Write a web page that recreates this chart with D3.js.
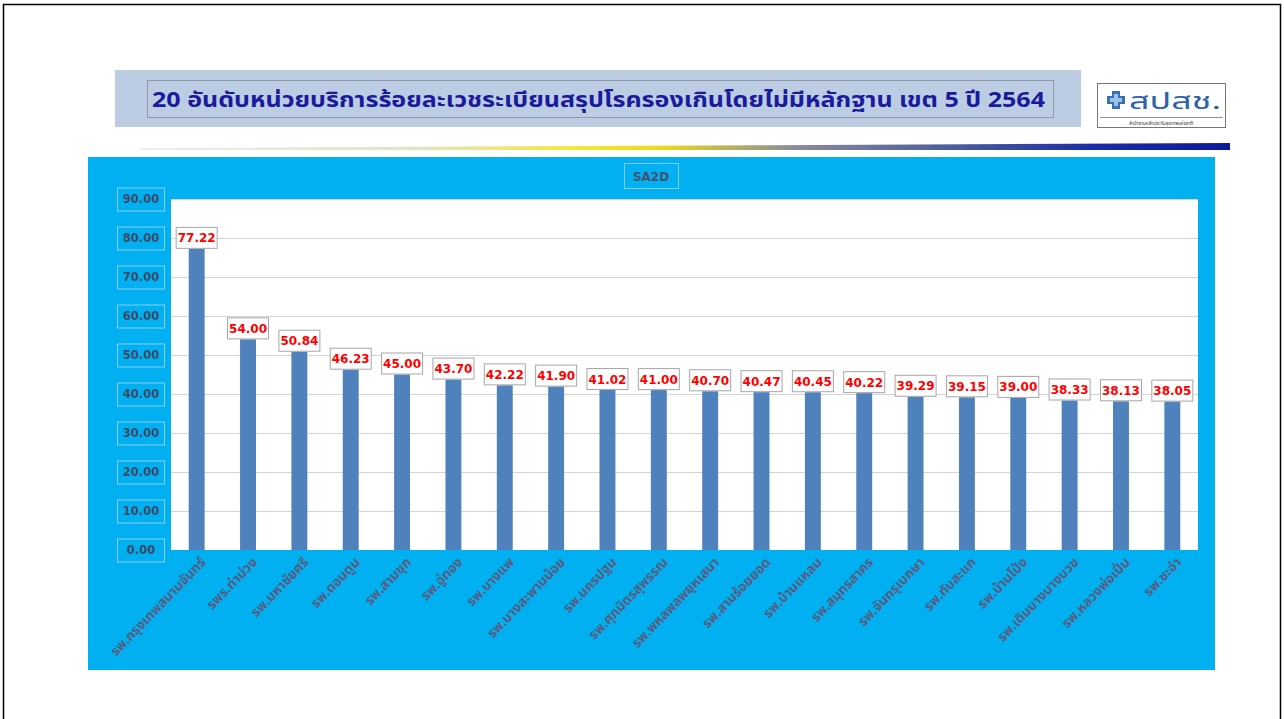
<!DOCTYPE html>
<html>
<head>
<meta charset="utf-8">
<script src="https://cdn.jsdelivr.net/npm/d3@7"></script>
<style>
  html, body { margin: 0; padding: 0; background: #ffffff; }
  svg { display: block; }
</style>
</head>
<body>
<svg id="chart" width="1284" height="719"></svg>
<script>
// Hospitals ranked by SA2D percentage, health region 5, fiscal year 2564
const hospitals = [
  "รพ.กรุงเทพสนามจันทร์", "รพร.ท่าม่วง", "รพ.มหาชัยศรี", "รพ.ดอนตูม", "รพ.สามชุก",
  "รพ.อู่ทอง", "รพ.บางแพ", "รพ.บางสะพานน้อย", "รพ.นครปฐม", "รพ.ศุภมิตรสุพรรณ",
  "รพ.พหลพลพยุหเสนา", "รพ.สามร้อยยอด", "รพ.บ้านแหลม", "รพ.สมุทรสาคร", "รพ.จันทรุเบกษา",
  "รพ.ทับสะแก", "รพ.บ้านโป่ง", "รพ.เดิมบางนางบวช", "รพ.หลวงพ่อเปิ่น", "รพ.ชะอำ"
];
const sa2dValues = [
  77.22, 54.00, 50.84, 46.23, 45.00, 43.70, 42.22, 41.90, 41.02, 41.00,
  40.70, 40.47, 40.45, 40.22, 39.29, 39.15, 39.00, 38.33, 38.13, 38.05
];
const yTicks = [0, 10, 20, 30, 40, 50, 60, 70, 80, 90];
const titleText = "20 อันดับหน่วยบริการร้อยละเวชระเบียนสรุปโรครองเกินโดยไม่มีหลักฐาน เขต 5 ปี 2564";
const seriesName = "SA2D";

const svg = d3.select("#chart");
const thaiFont = "Tahoma, 'Noto Sans Thai', 'Noto Sans', 'DejaVu Sans', sans-serif";

// page frame
svg.append("rect").attr("x", 3.5).attr("y", 4.5).attr("width", 1277).attr("height", 730)
  .attr("fill", "none").attr("stroke", "#000").attr("stroke-width", 1.5);

// title banner
svg.append("rect").attr("x", 115).attr("y", 70).attr("width", 966).attr("height", 57)
  .attr("fill", "#bccde3");
svg.append("rect").attr("x", 147.5).attr("y", 80.5).attr("width", 906).attr("height", 37)
  .attr("fill", "none").attr("stroke", "#8f9aa8").attr("stroke-width", 1);
svg.append("text").attr("x", 152).attr("y", 107)
  .attr("font-family", thaiFont).attr("font-weight", "bold").attr("font-size", 22)
  .attr("textLength", 893).attr("lengthAdjust", "spacingAndGlyphs")
  .attr("fill", "#1a1a9e").text(titleText);

// agency logo
const logo = svg.append("g");
logo.append("rect").attr("x", 1097.5).attr("y", 83.5).attr("width", 128).attr("height", 44)
  .attr("fill", "#fff").attr("stroke", "#777").attr("stroke-width", 1);
const icon = logo.append("g").attr("transform", "translate(1116,100)");
icon.append("path").attr("d", "M-4,-9 h8 v5 h5 v8 h-5 v5 h-8 v-5 h-5 v-8 h5 z").attr("fill", "#3a6fb6");
icon.append("path").attr("d", "M-2,-6 h4 v4 h4 v4 h-4 v4 h-4 v-4 h-4 v-4 h4 z").attr("fill", "#9cc3ea");
logo.append("text").attr("x", 1129).attr("y", 109).attr("font-family", thaiFont)
  .attr("font-size", 23).attr("textLength", 92).attr("lengthAdjust", "spacingAndGlyphs")
  .attr("fill", "#2f63a8").text("สปสช.");
logo.append("line").attr("x1", 1100).attr("x2", 1223).attr("y1", 117.5).attr("y2", 117.5)
  .attr("stroke", "#777").attr("stroke-width", 0.8);
logo.append("text").attr("x", 1161).attr("y", 125).attr("text-anchor", "middle").attr("font-family", thaiFont)
  .attr("font-size", 4.5).attr("fill", "#333").text("สำนักงานหลักประกันสุขภาพแห่งชาติ");

// decorative gradient rule
const defs = svg.append("defs");
const grad = defs.append("linearGradient").attr("id", "rule").attr("x1", "0%").attr("x2", "100%");
[["0%", "#eeeeee"], ["25%", "#e4e2c8"], ["40%", "#f2ea3a"], ["48%", "#e8d820"],
 ["60%", "#8a8c98"], ["75%", "#4a5c9a"], ["88%", "#1a2aa8"], ["100%", "#0a1a9a"]]
  .forEach(([o, c]) => grad.append("stop").attr("offset", o).attr("stop-color", c));
svg.append("path").attr("d", "M140,148 L1230,143 L1230,150 L140,150 Z").attr("fill", "url(#rule)");

// chart panel
svg.append("rect").attr("x", 88).attr("y", 157).attr("width", 1127).attr("height", 513)
  .attr("fill", "#00b0f0");

const plot = { left: 171, right: 1198, top: 199, bottom: 550 };
svg.append("rect").attr("x", plot.left).attr("y", plot.top)
  .attr("width", plot.right - plot.left).attr("height", plot.bottom - plot.top).attr("fill", "#fff");

// series title
svg.append("rect").attr("x", 624.5).attr("y", 163.5).attr("width", 54).attr("height", 25)
  .attr("fill", "none").attr("stroke", "#86c8ee").attr("stroke-width", 1);
svg.append("text").attr("x", 651).attr("y", 181).attr("text-anchor", "middle")
  .attr("font-family", "Tahoma, 'DejaVu Sans', sans-serif").attr("font-weight", "bold")
  .attr("font-size", 12).attr("fill", "#4a4f6e").text(seriesName);

const x = d3.scaleBand().domain(hospitals).range([plot.left, plot.right]).paddingInner(0.69).paddingOuter(0.345);
const y = d3.scaleLinear().domain([0, 90]).range([plot.bottom, plot.top]);

// gridlines
svg.append("g").selectAll("line").data(yTicks.filter(t => t > 0)).join("line")
  .attr("x1", plot.left).attr("x2", plot.right)
  .attr("y1", d => Math.round(y(d)) + 0.5).attr("y2", d => Math.round(y(d)) + 0.5)
  .attr("stroke", "#d4d4d4").attr("stroke-width", 1);

// y axis labels in boxes
const yAxis = svg.append("g").attr("transform", `translate(${plot.left - 6},0)`)
  .call(d3.axisLeft(y).tickValues(yTicks).tickFormat(d3.format(".2f")).tickSize(0).tickPadding(0));
yAxis.select(".domain").remove();
yAxis.selectAll(".tick text").attr("font-family", "Tahoma, 'DejaVu Sans', sans-serif")
  .attr("font-weight", "bold").attr("font-size", 11.5).attr("fill", "#3e4a68")
  .attr("x", -24).attr("text-anchor", "middle");
yAxis.selectAll(".tick").insert("rect", "text")
  .attr("x", -47.5).attr("y", -11.5).attr("width", 47).attr("height", 23)
  .attr("fill", "none").attr("stroke", "#8ccdf0").attr("stroke-width", 1);

// bars
svg.append("g").selectAll("rect").data(hospitals).join("rect")
  .attr("x", d => x(d)).attr("width", x.bandwidth())
  .attr("y", (d, i) => y(sa2dValues[i])).attr("height", (d, i) => y(0) - y(sa2dValues[i]))
  .attr("fill", "#4f81bd");

// value labels
const vl = svg.append("g").selectAll("g").data(hospitals).join("g")
  .attr("transform", (d, i) => `translate(${x(d) + x.bandwidth() / 2},${y(sa2dValues[i])})`);
vl.append("rect").attr("x", -20.5).attr("y", -21.5).attr("width", 41).attr("height", 21)
  .attr("fill", "#fff").attr("stroke", "#a6a6a6").attr("stroke-width", 1);
vl.append("text").attr("y", -6.5).attr("text-anchor", "middle")
  .attr("font-family", "Tahoma, 'DejaVu Sans', sans-serif").attr("font-weight", "bold")
  .attr("font-size", 12).attr("fill", "#ff0000")
  .text((d, i) => d3.format(".2f")(sa2dValues[i]));

// rotated category labels
const xAxis = svg.append("g").attr("transform", `translate(0,${plot.bottom})`)
  .call(d3.axisBottom(x).tickSize(0).tickPadding(0));
xAxis.select(".domain").remove();
xAxis.selectAll(".tick text")
  .attr("font-family", thaiFont).attr("font-weight", "bold").attr("font-size", 13.5)
  .attr("fill", "#5b5b80").attr("text-anchor", "end").attr("dy", 0).attr("y", 0)
  .attr("transform", "translate(10,13) rotate(-46)");
</script>
</body>
</html>
